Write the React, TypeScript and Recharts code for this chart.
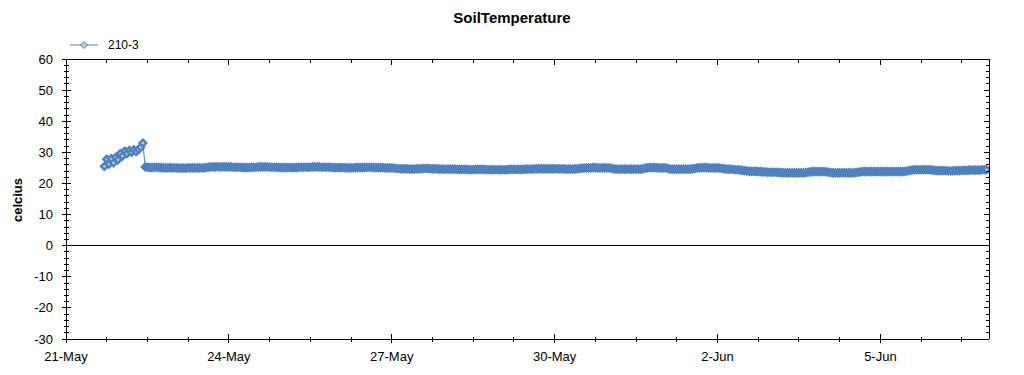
import React from 'react';
import { LineChart, Line, XAxis, YAxis, ReferenceLine } from 'recharts';

// ---- data (hourly readings, first reading 21-May 17:00) ----
const seriesName = '210-3';
const firstHour = 17; // hours after 21-May 00:00

const may21to22Morning = [
  25.5, 27.8, 26.2, 28.0, 26.6, 28.4, 27.6,
  29.6, 28.8, 30.4, 29.6, 30.6, 30.0, 30.8, 30.2, 30.9, 31.6, 33.0,
];
const may22Rest = [25.3, 25.2, 25.1, 25.1, 25.2, 25.2, 25.1, 25.1, 25.0, 25.0, 25.0, 25.1, 25.0];
const may23 = [25.0, 25.0, 24.9, 24.9, 24.9, 24.9, 25.0, 25.0, 25.0, 25.0, 25.0, 25.0, 25.0, 25.0, 25.1, 25.2, 25.3, 25.3, 25.3, 25.4, 25.3, 25.3, 25.3, 25.3];
const may24 = [25.3, 25.3, 25.2, 25.2, 25.2, 25.2, 25.1, 25.1, 25.1, 25.1, 25.2, 25.2, 25.2, 25.3, 25.3, 25.3, 25.3, 25.3, 25.2, 25.2, 25.2, 25.2, 25.1, 25.1];
const may25 = [25.1, 25.1, 25.1, 25.1, 25.1, 25.1, 25.1, 25.2, 25.2, 25.2, 25.2, 25.2, 25.2, 25.3, 25.3, 25.3, 25.3, 25.2, 25.2, 25.2, 25.2, 25.2, 25.1, 25.1];
const may26 = [25.1, 25.1, 25.1, 25.1, 25.0, 25.0, 25.0, 25.0, 25.1, 25.1, 25.1, 25.1, 25.1, 25.2, 25.2, 25.2, 25.1, 25.1, 25.1, 25.1, 25.1, 25.0, 25.0, 25.0];
const may27 = [25.0, 24.9, 24.8, 24.8, 24.7, 24.7, 24.7, 24.7, 24.6, 24.6, 24.6, 24.7, 24.7, 24.7, 24.8, 24.8, 24.8, 24.7, 24.7, 24.7, 24.7, 24.6, 24.6, 24.6];
const may28 = [24.6, 24.6, 24.6, 24.6, 24.6, 24.5, 24.5, 24.5, 24.5, 24.5, 24.4, 24.4, 24.4, 24.5, 24.5, 24.5, 24.5, 24.5, 24.4, 24.4, 24.4, 24.4, 24.4, 24.4];
const may29 = [24.4, 24.4, 24.4, 24.4, 24.5, 24.5, 24.5, 24.5, 24.5, 24.5, 24.5, 24.6, 24.6, 24.6, 24.6, 24.7, 24.7, 24.7, 24.7, 24.7, 24.7, 24.7, 24.7, 24.7];
const may30 = [24.7, 24.7, 24.7, 24.7, 24.7, 24.6, 24.6, 24.6, 24.6, 24.7, 24.7, 24.8, 24.9, 24.9, 25.0, 25.0, 25.0, 25.1, 25.1, 25.0, 25.0, 25.0, 25.0, 25.0];
const may31 = [25.0, 24.9, 24.7, 24.6, 24.6, 24.6, 24.6, 24.6, 24.6, 24.6, 24.6, 24.6, 24.6, 24.6, 24.6, 24.7, 24.9, 25.0, 25.1, 25.1, 25.1, 25.1, 25.0, 25.0];
const jun1 = [25.0, 25.0, 24.8, 24.6, 24.6, 24.6, 24.6, 24.6, 24.6, 24.6, 24.6, 24.6, 24.6, 24.7, 24.8, 25.0, 25.0, 25.1, 25.1, 25.1, 25.0, 25.0, 25.0, 25.0];
const jun2 = [25.0, 24.9, 24.8, 24.7, 24.6, 24.6, 24.6, 24.5, 24.4, 24.4, 24.3, 24.2, 24.1, 24.0, 23.9, 23.9, 23.9, 23.9, 23.8, 23.8, 23.7, 23.7, 23.6, 23.6];
const jun3 = [23.6, 23.6, 23.6, 23.5, 23.5, 23.4, 23.4, 23.4, 23.4, 23.4, 23.4, 23.4, 23.4, 23.4, 23.4, 23.5, 23.6, 23.7, 23.8, 23.8, 23.8, 23.8, 23.8, 23.8];
const jun4 = [23.7, 23.6, 23.5, 23.4, 23.4, 23.4, 23.4, 23.4, 23.4, 23.4, 23.4, 23.4, 23.4, 23.5, 23.6, 23.7, 23.8, 23.8, 23.8, 23.8, 23.8, 23.8, 23.8, 23.8];
const jun5 = [23.8, 23.8, 23.8, 23.8, 23.8, 23.8, 23.8, 23.8, 23.8, 23.8, 23.8, 23.9, 24.0, 24.2, 24.3, 24.4, 24.4, 24.4, 24.4, 24.4, 24.4, 24.4, 24.4, 24.3];
const jun6 = [24.2, 24.1, 24.1, 24.1, 24.1, 24.1, 24.0, 24.0, 24.0, 24.1, 24.1, 24.1, 24.2, 24.2, 24.2, 24.3, 24.3, 24.3, 24.3, 24.3, 24.3, 24.4, 24.4, 24.4];

const readings = [
  ...may21to22Morning, ...may22Rest, ...may23, ...may24, ...may25, ...may26, ...may27,
  ...may28, ...may29, ...may30, ...may31, ...jun1, ...jun2, ...jun3, ...jun4, ...jun5, ...jun6,
];

// x axis (hours after 21-May 00:00)
const xDomain = [0, 408];
const xTicks = [0, 18, 36, 54, 72, 90, 108, 126, 144, 162, 180, 198, 216, 234, 252, 270, 288, 306, 324, 342, 360, 378, 396];
const xMajorTicks = [0, 72, 144, 216, 288, 360];
const xMajorLabels = ['21-May', '24-May', '27-May', '30-May', '2-Jun', '5-Jun'];

// y axis
const yDomain = [-30, 60];
const yTicks = [-30, -28, -26, -24, -22, -20, -18, -16, -14, -12, -10, -8, -6, -4, -2, 0, 2, 4, 6, 8, 10, 12, 14, 16, 18, 20, 22, 24, 26, 28, 30, 32, 34, 36, 38, 40, 42, 44, 46, 48, 50, 52, 54, 56, 58, 60];

const data = readings.map((v, i) => ({ hour: firstHour + i, value: v }));

const BLUE = '#4F81BD';
const LIGHT = '#B9CDE5';
const FONT = '"Liberation Sans", Arial, sans-serif';

const Diamond = (props: any) => {
  const { cx, cy, index } = props;
  if (cx == null || cy == null) return <g key={`d${index}`} />;
  const s = 3.4;
  return (
    <path
      key={`d${index}`}
      d={`M${cx},${cy - s}L${cx + s},${cy}L${cx},${cy + s}L${cx - s},${cy}Z`}
      fill={LIGHT}
      stroke={BLUE}
      strokeWidth={2.4}
    />
  );
};

const LeftTick = (props: any) => {
  const { x, y, payload } = props;
  const major = payload.value % 10 === 0;
  return (
    <g>
      <line x1={x - (major ? 4 : 2)} x2={x + (major ? 5 : 3)} y1={y} y2={y} stroke="#000" shapeRendering="crispEdges" />
      {major && (
        <text x={x - 13} y={y} dy={4.5} textAnchor="end" fontSize={13} fontFamily={FONT} fill="#000">
          {payload.value}
        </text>
      )}
    </g>
  );
};

const RightTick = (props: any) => {
  const { x, y, payload } = props;
  const major = payload.value % 10 === 0;
  return <line x1={x - (major ? 5 : 3)} x2={x} y1={y} y2={y} stroke="#000" shapeRendering="crispEdges" />;
};

const BottomTick = (props: any) => {
  const { x, y, payload } = props;
  const mi = xMajorTicks.indexOf(payload.value);
  const major = mi >= 0;
  return (
    <g>
      <line x1={x} x2={x} y1={y - (major ? 5 : 2)} y2={y + (major ? 4 : 3)} stroke="#000" shapeRendering="crispEdges" />
      {major && (
        <text x={x} y={y} dy={22} textAnchor="middle" fontSize={13} fontFamily={FONT} fill="#000">
          {xMajorLabels[mi]}
        </text>
      )}
    </g>
  );
};

const TopTick = (props: any) => {
  const { x, y, payload } = props;
  const major = xMajorTicks.indexOf(payload.value) >= 0;
  return <line x1={x} x2={x} y1={y} y2={y + (major ? 6 : 4)} stroke="#000" shapeRendering="crispEdges" />;
};

export default function App() {
  return (
    <div style={{ position: 'absolute', left: 0, top: 0, width: 1024, height: 375, background: '#fff' }}>
      <LineChart width={1024} height={375} data={data} margin={{ top: 0, right: 0, bottom: 0, left: 0 }}>
        <XAxis
          xAxisId="b"
          dataKey="hour"
          type="number"
          domain={xDomain}
          ticks={xTicks}
          interval={0}
          orientation="bottom"
          height={36}
          tickSize={0}
          tickMargin={0}
          tickLine={false}
          axisLine={{ stroke: '#000', shapeRendering: 'crispEdges' }}
          tick={<BottomTick />}
          allowDataOverflow
        />
        <XAxis
          xAxisId="t"
          dataKey="hour"
          type="number"
          domain={xDomain}
          ticks={xTicks}
          interval={0}
          orientation="top"
          height={59}
          tickSize={0}
          tickMargin={0}
          tickLine={false}
          axisLine={{ stroke: '#000', shapeRendering: 'crispEdges' }}
          tick={<TopTick />}
          allowDataOverflow
        />
        <YAxis
          yAxisId="l"
          type="number"
          domain={yDomain}
          ticks={yTicks}
          interval={0}
          orientation="left"
          width={66}
          tickSize={0}
          tickMargin={0}
          tickLine={false}
          axisLine={{ stroke: '#000', shapeRendering: 'crispEdges' }}
          tick={<LeftTick />}
          allowDataOverflow
        />
        <YAxis
          yAxisId="r"
          type="number"
          domain={yDomain}
          ticks={yTicks}
          interval={0}
          orientation="right"
          width={35}
          tickSize={0}
          tickMargin={0}
          tickLine={false}
          axisLine={{ stroke: '#000', shapeRendering: 'crispEdges' }}
          tick={<RightTick />}
          allowDataOverflow
        />
        <ReferenceLine xAxisId="b" yAxisId="l" y={0} stroke="#000" shapeRendering="crispEdges" />
        <Line
          xAxisId="b"
          yAxisId="l"
          type="linear"
          dataKey="value"
          name={seriesName}
          stroke={BLUE}
          strokeWidth={1}
          dot={Diamond}
          activeDot={false}
          isAnimationActive={false}
        />
      </LineChart>
      <svg width={1024} height={375} style={{ position: 'absolute', left: 0, top: 0, pointerEvents: 'none' }}>
        <text x={512} y={23} textAnchor="middle" fontSize={15} fontWeight="bold" fontFamily={FONT} fill="#000">
          SoilTemperature
        </text>
        <line x1={70} x2={98} y1={45} y2={45} stroke={BLUE} strokeWidth={1} />
        <path d="M84,41.5L87.5,45L84,48.5L80.5,45Z" fill={LIGHT} stroke={BLUE} strokeWidth={1} />
        <text x={108} y={49} fontSize={12} fontFamily={FONT} fill="#000">
          {seriesName}
        </text>
        <text
          x={0}
          y={0}
          transform="translate(22,200) rotate(-90)"
          textAnchor="middle"
          fontSize={13}
          fontWeight="bold"
          fontFamily={FONT}
          fill="#000"
        >
          celcius
        </text>
      </svg>
    </div>
  );
}
